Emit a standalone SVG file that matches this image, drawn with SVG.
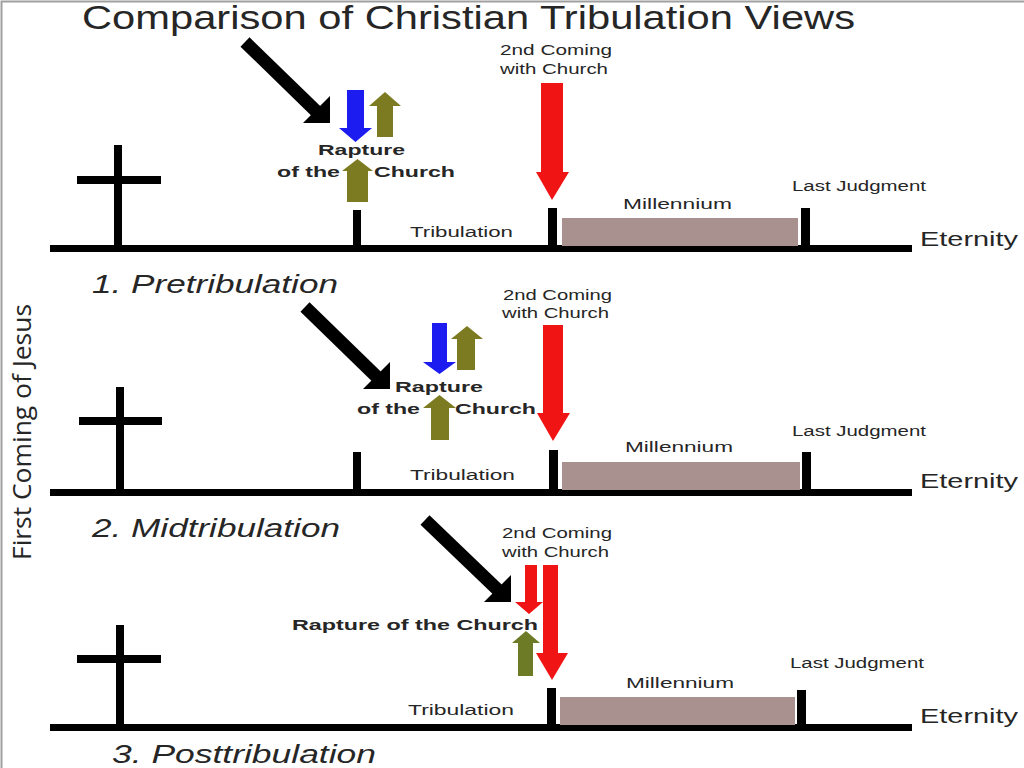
<svg xmlns="http://www.w3.org/2000/svg" width="1024" height="768" viewBox="0 0 1024 768">
<defs>
<style>
.t{font-family:"Liberation Sans",Arial,sans-serif;fill:#262626;}
.lbl{font-size:14px;}
.b{font-weight:bold;font-size:15px;}
.et{font-size:21px;}
.pt{font-size:25px;font-style:italic;}
.ln{fill:#000;}
.mil{fill:#a8918f;}
.red{fill:#f01414;}
.blue{fill:#1c1cf0;}
.olive{fill:#7d7b22;}
.green{fill:#6d7a26;}
.blk{stroke:#000;stroke-width:13;fill:none;}
</style>
</defs>
<rect width="1024" height="768" fill="#fff"/>
<path d="M1.5,768 V1.5 H1024" stroke="#a0a0a0" stroke-width="2" fill="none"/>
<text id="title" class="t" x="82" y="29" font-size="33" textLength="773" lengthAdjust="spacingAndGlyphs">Comparison of Christian Tribulation Views</text>
<text id="first-coming" x="0" y="0" transform="translate(31,432) rotate(-90)" text-anchor="middle" font-family="'Open Sans','Noto Sans',sans-serif" font-size="26" fill="#262626" textLength="256" lengthAdjust="spacingAndGlyphs">First Coming of Jesus</text>

<g id="panel1">
<rect class="ln" x="50" y="245" width="862" height="7"/>
<rect class="ln" x="114" y="145" width="8" height="104"/>
<rect class="ln" x="77" y="176" width="84" height="8"/>
<rect class="ln" x="353" y="210" width="8" height="38"/>
<rect class="ln" x="548" y="208" width="9" height="40"/>
<rect class="mil" x="562" y="218" width="236" height="28"/>
<rect class="ln" x="801" y="208" width="9" height="40"/>
<text class="t lbl" x="410" y="237" textLength="103" lengthAdjust="spacingAndGlyphs">Tribulation</text>
<text class="t lbl" x="623" y="209" font-size="15" textLength="109" lengthAdjust="spacingAndGlyphs">Millennium</text>
<text class="t lbl" x="792" y="191" textLength="134" lengthAdjust="spacingAndGlyphs">Last Judgment</text>
<text class="t et" x="920" y="246" textLength="98" lengthAdjust="spacingAndGlyphs">Eternity</text>
<text class="t lbl" x="500" y="55" textLength="112" lengthAdjust="spacingAndGlyphs">2nd Coming</text>
<text class="t lbl" x="500" y="74" textLength="108" lengthAdjust="spacingAndGlyphs">with Church</text>
<text class="t pt" x="92" y="293" textLength="246" lengthAdjust="spacingAndGlyphs">1. Pretribulation</text>
<polygon class="red" points="541,83 563,83 563,172 569,172 552,200 536,172 541,172"/>
<polygon class="blue" points="347,90 364,90 364,128 372,128 355.5,142 339,128 347,128"/>
<polygon class="olive" points="377,137 393,137 393,106 401,106 385,92 369,106 377,106"/>
<polygon class="olive" points="347,202 368,202 368,171 373,171 357.5,159 342,171 347,171"/>
<text class="t b" x="318" y="155" textLength="87" lengthAdjust="spacingAndGlyphs">Rapture</text>
<text class="t b" x="277" y="177" textLength="63" lengthAdjust="spacingAndGlyphs">of the</text>
<text class="t b" x="374" y="177" textLength="81" lengthAdjust="spacingAndGlyphs">Church</text>
</g>

<g id="panel2">
<rect class="ln" x="50" y="489" width="862" height="7"/>
<rect class="ln" x="116" y="387" width="8" height="105"/>
<rect class="ln" x="79" y="417" width="83" height="8"/>
<rect class="ln" x="353" y="452" width="8" height="40"/>
<rect class="ln" x="549" y="450" width="9" height="42"/>
<rect class="mil" x="562" y="462" width="238" height="28"/>
<rect class="ln" x="802" y="452" width="9" height="40"/>
<text class="t lbl" x="410" y="480" textLength="105" lengthAdjust="spacingAndGlyphs">Tribulation</text>
<text class="t lbl" x="625" y="452" font-size="15" textLength="108" lengthAdjust="spacingAndGlyphs">Millennium</text>
<text class="t lbl" x="792" y="436" textLength="134" lengthAdjust="spacingAndGlyphs">Last Judgment</text>
<text class="t et" x="920" y="488" textLength="98" lengthAdjust="spacingAndGlyphs">Eternity</text>
<text class="t lbl" x="503" y="300" textLength="109" lengthAdjust="spacingAndGlyphs">2nd Coming</text>
<text class="t lbl" x="502" y="318" textLength="107" lengthAdjust="spacingAndGlyphs">with Church</text>
<text class="t pt" x="92" y="537" textLength="248" lengthAdjust="spacingAndGlyphs">2. Midtribulation</text>
<polygon class="red" points="543,325 563,325 563,413 570,413 553,441 537,413 543,413"/>
<polygon class="blue" points="432,323 447,323 447,362 456,362 439.5,374 423,362 432,362"/>
<polygon class="olive" points="457,370 475,370 475,339 483,339 467,326 451,339 457,339"/>
<polygon class="olive" points="431,440 449,440 449,408 456,408 439.5,395 423,408 431,408"/>
<text class="t b" x="395" y="392" textLength="88" lengthAdjust="spacingAndGlyphs">Rapture</text>
<text class="t b" x="357" y="414" textLength="63" lengthAdjust="spacingAndGlyphs">of the</text>
<text class="t b" x="455" y="414" textLength="81" lengthAdjust="spacingAndGlyphs">Church</text>
</g>

<g id="panel3">
<rect class="ln" x="50" y="724" width="862" height="7"/>
<rect class="ln" x="116" y="625" width="8" height="102"/>
<rect class="ln" x="77" y="655" width="84" height="8"/>
<rect class="ln" x="547" y="688" width="9" height="40"/>
<rect class="mil" x="560" y="697" width="235" height="28"/>
<rect class="ln" x="797" y="690" width="9" height="38"/>
<text class="t lbl" x="408" y="715" textLength="106" lengthAdjust="spacingAndGlyphs">Tribulation</text>
<text class="t lbl" x="626" y="688" font-size="15" textLength="108" lengthAdjust="spacingAndGlyphs">Millennium</text>
<text class="t lbl" x="790" y="668" textLength="134" lengthAdjust="spacingAndGlyphs">Last Judgment</text>
<text class="t et" x="920" y="723" textLength="98" lengthAdjust="spacingAndGlyphs">Eternity</text>
<text class="t lbl" x="502" y="538" textLength="110" lengthAdjust="spacingAndGlyphs">2nd Coming</text>
<text class="t lbl" x="502" y="557" textLength="107" lengthAdjust="spacingAndGlyphs">with Church</text>
<text class="t pt" x="112" y="763" textLength="264" lengthAdjust="spacingAndGlyphs">3. Posttribulation</text>
<polygon class="red" points="543,565 558,565 558,653 568,653 552,680 536,653 543,653"/>
<polygon class="red" points="525,565 537,565 537,602 543,602 529,614 515,602 525,602"/>
<polygon class="green" points="518,676 533,676 533,643 540,643 526,631 512,643 518,643"/>
<text class="t b" x="292" y="630" textLength="246" lengthAdjust="spacingAndGlyphs">Rapture of the Church</text>
</g>

<g id="connectors">
<line class="blk" x1="245" y1="42" x2="318" y2="113"/>
<polygon class="ln" points="303,123 330,123 330,96"/>
<line class="blk" x1="305" y1="307" x2="378" y2="378"/>
<polygon class="ln" points="363,389 390,389 390,362"/>
<line class="blk" x1="425" y1="520" x2="499" y2="591"/>
<polygon class="ln" points="484,602 511,602 511,575"/>
</g>
</svg>
